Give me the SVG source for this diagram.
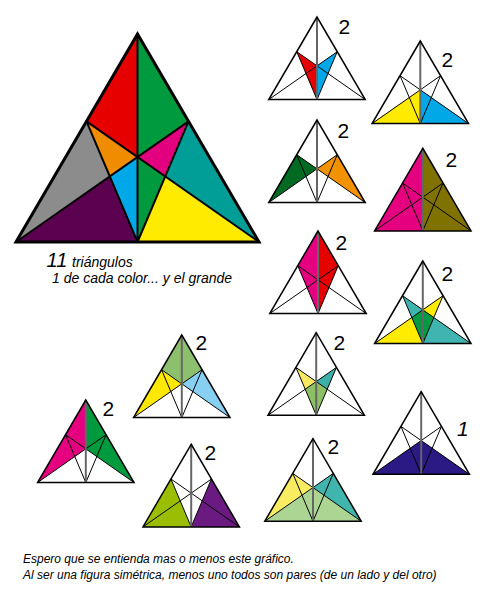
<svg xmlns="http://www.w3.org/2000/svg" xmlns:xlink="http://www.w3.org/1999/xlink" width="480" height="600" viewBox="0 0 480 600">
<style>
.s{fill:none;stroke:#000;vector-effect:non-scaling-stroke;stroke-linejoin:miter}
.si{stroke-width:1}
.so{stroke-width:1.5}
.sv{stroke:#666;stroke-width:2}
.bi{stroke-width:2}
.bo{stroke-width:3}
text{font-family:"Liberation Sans",Arial,sans-serif;fill:#000}
.n{font-size:21px}
.it{font-style:italic}
</style>
<defs>
<g id="sl">
<path class="s si" d="M-51,87.4L121.5,208M51,87.4L-121.5,208M-51,87.4L0,208M51,87.4L0,208"/>
<path class="s sv" d="M0,0V208"/>
<polygon class="s so" points="0,0 -121.5,208 121.5,208"/>
</g>
</defs>
<rect width="480" height="600" fill="#fff"/>

<g id="big" transform="translate(137.5,34)">
<polygon fill="#e60000" points="0,0 -51,87.4 0,123.1"/>
<polygon fill="#009a3e" points="0,0 0,123.1 51,87.4"/>
<polygon fill="#8c8c8c" points="-51,87.4 -121.5,208 -27.7,142.4"/>
<polygon fill="#f08c00" points="-51,87.4 0,123.1 -27.7,142.4"/>
<polygon fill="#e2007f" points="51,87.4 0,123.1 27.7,142.4"/>
<polygon fill="#009e96" points="51,87.4 27.7,142.4 121.5,208"/>
<polygon fill="#00a8e8" points="0,123.1 -27.7,142.4 0,208"/>
<polygon fill="#009a3e" points="0,123.1 27.7,142.4 0,208"/>
<polygon fill="#5c0050" points="-121.5,208 -27.7,142.4 0,208"/>
<polygon fill="#ffeb00" points="0,208 27.7,142.4 121.5,208"/>
<path class="s bi" d="M-51,87.4L121.5,208M51,87.4L-121.5,208M-51,87.4L0,208M51,87.4L0,208M0,0V208"/>
<polygon class="s bo" points="0,0 -121.5,208 121.5,208"/>
</g>

<g id="t1" transform="translate(317,17) scale(0.397)">
<polygon fill="#e60000" points="-51,87.4 0,123.1 0,208"/>
<polygon fill="#00a8e8" points="51,87.4 0,123.1 0,208"/>
<use xlink:href="#sl"/>
</g>
<g id="t2" transform="translate(420.3,41) scale(0.397)">
<polygon fill="#ffeb00" points="-121.5,208 0,123.1 0,208"/>
<polygon fill="#00a8e8" points="0,123.1 121.5,208 0,208"/>
<use xlink:href="#sl"/>
</g>
<g id="t3" transform="translate(317,120) scale(0.397)">
<polygon fill="#006a22" points="-51,87.4 0,123.1 -121.5,208"/>
<polygon fill="#f39200" points="51,87.4 0,123.1 121.5,208"/>
<use xlink:href="#sl"/>
</g>
<g id="t4" transform="translate(422.8,148.3) scale(0.397)">
<polygon fill="#e4007f" points="0,0 -121.5,208 0,208"/>
<polygon fill="#7f7200" points="0,0 0,208 121.5,208"/>
<use xlink:href="#sl"/>
</g>
<g id="t5" transform="translate(318,231) scale(0.397)">
<polygon fill="#e4007f" points="0,0 -51,87.4 0,208"/>
<polygon fill="#e60000" points="0,0 51,87.4 0,208"/>
<use xlink:href="#sl"/>
</g>
<g id="t6" transform="translate(422.8,261) scale(0.397)">
<polygon fill="#40b4b0" points="-51,87.4 0,123.1 -27.7,142.4"/>
<polygon fill="#40b4b0" points="27.7,142.4 121.5,208 0,208"/>
<polygon fill="#ffec00" points="51,87.4 0,123.1 27.7,142.4"/>
<polygon fill="#ffec00" points="-121.5,208 -27.7,142.4 0,208"/>
<polygon fill="#009a44" points="-27.7,142.4 0,123.1 27.7,142.4 0,208"/>
<use xlink:href="#sl"/>
</g>
<g id="t7" transform="translate(316.2,332.7) scale(0.397)">
<polygon fill="#f7e960" points="-51,87.4 0,123.1 -27.7,142.4"/>
<polygon fill="#3ab0a8" points="51,87.4 0,123.1 27.7,142.4"/>
<polygon fill="#8dc065" points="-27.7,142.4 0,123.1 27.7,142.4 0,208"/>
<use xlink:href="#sl"/>
</g>
<g id="t8" transform="translate(421.2,391.7) scale(0.397)">
<polygon fill="#2b1a84" points="-121.5,208 0,123.1 121.5,208"/>
<use xlink:href="#sl"/>
</g>
<g id="t9" transform="translate(313,438.7) scale(0.397)">
<polygon fill="#f9ec60" points="-51,87.4 -121.5,208 0,123.1"/>
<polygon fill="#40b5ad" points="51,87.4 0,123.1 121.5,208"/>
<polygon fill="#acd492" points="-121.5,208 0,123.1 121.5,208"/>
<use xlink:href="#sl"/>
</g>
<g id="t10" transform="translate(181.8,335) scale(0.397)">
<polygon fill="#8dc06c" points="0,0 -51,87.4 0,123.1 51,87.4"/>
<polygon fill="#ffe800" points="-51,87.4 -121.5,208 0,123.1"/>
<polygon fill="#88d0f2" points="51,87.4 0,123.1 121.5,208"/>
<use xlink:href="#sl"/>
</g>
<g id="t11" transform="translate(85.8,400) scale(0.397)">
<polygon fill="#e4007f" points="0,0 -121.5,208 0,123.1"/>
<polygon fill="#009a3e" points="0,0 0,123.1 121.5,208"/>
<use xlink:href="#sl"/>
</g>
<g id="t12" transform="translate(191.2,444.3) scale(0.397)">
<polygon fill="#9bbe00" points="-51,87.4 -121.5,208 0,208"/>
<polygon fill="#6a1a80" points="51,87.4 0,208 121.5,208"/>
<use xlink:href="#sl"/>
</g>

<g id="labels">
<text class="n" x="338.5" y="34">2</text>
<text class="n" x="441.5" y="67">2</text>
<text class="n" x="337.5" y="137.5">2</text>
<text class="n" x="445.5" y="167">2</text>
<text class="n" x="335.5" y="250">2</text>
<text class="n" x="441.5" y="281">2</text>
<text class="n" x="333.5" y="350">2</text>
<text class="n it" x="457" y="436">1</text>
<text class="n" x="327.5" y="454">2</text>
<text class="n" x="195.5" y="349.5">2</text>
<text class="n" x="102.5" y="416">2</text>
<text class="n" x="204.5" y="460">2</text>
</g>

<g id="caption">
<text class="it" x="46.5" y="267" font-size="20">11</text>
<text class="it" x="72" y="267" font-size="14">triángulos</text>
<text class="it" x="52" y="283" font-size="14">1 de cada color... y el grande</text>
<text class="it" x="23" y="563" font-size="12">Espero que se entienda mas o menos este gráfico.</text>
<text class="it" x="23" y="579" font-size="12">Al ser una figura simétrica, menos uno todos son pares (de un lado y del otro)</text>
</g>
</svg>
